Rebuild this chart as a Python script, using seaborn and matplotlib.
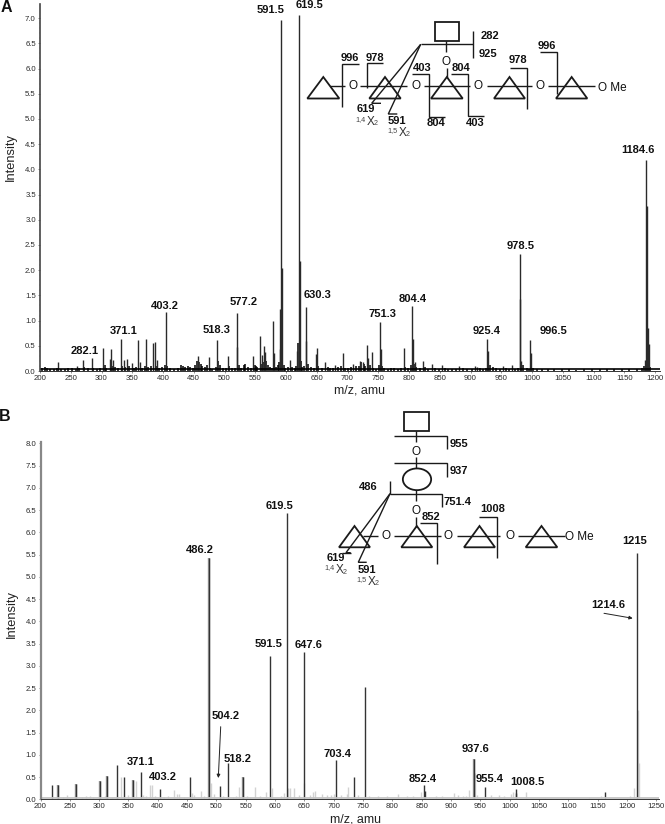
import numpy as np
import pandas as pd
import matplotlib
matplotlib.use('Agg')
import matplotlib.pyplot as plt
from matplotlib.patches import Ellipse, Polygon, Rectangle
import seaborn as sns

sns.set_theme(style='ticks')
plt.rcParams['font.family'] = ['Liberation Sans', 'DejaVu Sans']

# panel A, tall peaks
a_mz = [230, 260, 270, 284, 303, 313, 315, 319, 331, 336, 342, 350, 359, 363, 373, 384, 387, 391,
        405, 457, 474, 488, 506, 520, 521, 547, 557, 561, 564, 565, 579, 580, 590, 591, 592, 594,
        606, 618, 621, 622, 632, 633, 649, 650, 664, 680, 693, 709, 720, 725, 731, 734, 739, 753,
        754, 791, 805, 806, 809, 823, 838, 853, 882, 907, 911, 927, 928, 953, 967, 980, 981, 982,
        997, 999, 1184, 1186, 1187, 1188, 1190]
a_int = [.17, .10, .22, .25, .46, .24, .44, .22, .63, .22, .24, .15, .62, .17, .64, .55, .58, .22,
         1.18, .30, .28, .62, .30, 1.16, .48, .30, .70, .32, .50, .38, 1.00, .35, .43, 1.22, 6.97, 2.04,
         .22, .40, 7.07, 2.18, 1.26, .60, .34, .45, .18, .12, .35, .14, .19, .17, .52, .25, .38, .97,
         .44, .46, 1.29, .63, .17, .19, .13, .11, .09, .09, .08, .63, .40, .10, .12, 2.32, 1.43, .20,
         .62, .35, .22, 4.19, 3.27, .86, .54]
# panel A, grass along the baseline
a_small_mz = [204, 208, 212, 216, 222, 228, 234, 240, 246, 252, 258, 264, 272, 278, 286, 292, 298, 305, 308,
              317, 322, 327, 333, 339, 345, 353, 356, 366, 370, 376, 380, 389, 394, 399, 403, 407, 412, 418,
              424, 429, 432, 436, 440, 444, 448, 452, 455, 459, 461, 464, 468, 472, 476, 480, 486, 490, 493,
              498, 503, 508, 512, 517, 523, 527, 531, 534, 538, 543, 549, 551, 553, 559, 562, 567, 570, 574,
              577, 583, 587, 589, 593, 596, 599, 603, 610, 614, 616, 620, 624, 626, 629, 635, 640, 645, 652,
              658, 668, 672, 676, 684, 689, 696, 700, 705, 714, 718, 722, 727, 729, 737, 742, 747, 751, 756,
              760, 765, 770, 776, 782, 787, 794, 798, 803, 808, 812, 817, 826, 831, 842, 848, 858, 864, 870,
              876, 888, 895, 902, 915, 920, 925, 931, 936, 942, 948, 958, 963, 972, 977, 985, 991, 995, 1002,
              1008, 1016, 1026, 1036, 1048, 1060, 1072, 1085, 1098, 1110, 1122, 1134, 1146, 1158, 1170, 1178, 1182, 1192]
a_small_int = [.06, .08, .06, .04, .03, .05, .03, .04, .05, .06, .04, .05, .08, .05, .06, .04, .05, .12, .06,
               .10, .07, .05, .09, .08, .10, .06, .07, .05, .09, .07, .10, .09, .06, .07, .12, .09, .05, .04,
               .05, .11, .09, .07, .10, .07, .06, .12, .20, .17, .14, .10, .07, .12, .05, .04, .08, .19, .12,
               .06, .05, .10, .06, .05, .12, .06, .12, .14, .08, .05, .12, .10, .08, .14, .17, .20, .12, .08,
               .06, .08, .12, .18, .35, .12, .05, .07, .08, .06, .10, .55, .20, .08, .10, .13, .07, .06, .10,
               .05, .08, .06, .05, .07, .09, .06, .05, .07, .10, .09, .17, .14, .10, .11, .05, .04, .12, .09,
               .05, .04, .05, .05, .04, .05, .08, .06, .12, .14, .08, .05, .07, .04, .06, .04, .05, .03, .04,
               .03, .05, .03, .04, .05, .04, .05, .12, .07, .05, .04, .05, .03, .04, .06, .12, .05, .04, .06,
               .04, .03, .03, .03, .03, .03, .02, .03, .03, .04, .03, .03, .04, .03, .03, .05, .10, .07]
a_label_text = ['282.1', '371.1', '403.2', '518.3', '577.2', '591.5', '619.5', '630.3', '751.3', '804.4',
                '925.4', '978.5', '996.5', '1184.6']
# panel B, black sticks
b_mz = [220, 229, 261, 302, 314, 330, 342, 358, 371.5, 404, 455, 488, 505.5, 519, 546, 592, 621, 649,
        704, 735, 753, 853, 855, 939, 957, 1010, 1011, 1162, 1217]
b_int = [.32, .32, .35, .41, .53, .77, .49, .43, .62, .23, .50, 5.42, .30, .81, .50, 3.22, 6.44, 3.30,
         .88, .49, 2.53, .32, .19, .90, .27, .23, .15, .16, 5.53]
# panel B, the sticks that look wider and greyer
b_wide_mz = [229, 261, 302, 314, 358, 488, 546, 939]
b_wide_int = [.32, .35, .41, .53, .43, 5.42, .50, .90]
# panel B, pale peaks behind them
b_pale_mz = [238, 245, 258, 270, 278, 285, 290, 310, 322, 337, 350, 363, 375, 380, 387, 390, 396, 410, 418, 427,
             432, 436, 445, 458, 462, 473, 478, 490, 496, 512, 528, 533, 538, 552, 558, 565, 575, 585, 595,
             610, 615, 622, 626, 633, 640, 650, 660, 665, 668, 680, 688, 695, 700, 712, 722, 725, 742, 760,
             775, 790, 810, 825, 835, 848, 862, 875, 885, 905, 912, 920, 925, 930, 941, 945, 968, 982, 990,
             1003, 1006, 1028, 1060, 1100, 1135, 1155, 1205, 1212, 1219, 1221]
b_pale_int = [.06, .10, .08, .05, .08, .08, .06, .08, .06, .49, .10, .41, .10, .08, .32, .32, .08, .06, .08, .22,
              .12, .13, .06, .14, .10, .19, .08, .36, .12, .08, .05, .07, .28, .08, .06, .28, .07, .16, .25,
              .08, .14, .25, .26, .25, .10, .36, .09, .17, .18, .12, .10, .10, .12, .10, .13, .28, .10, .08,
              .08, .08, .12, .07, .08, .16, .06, .07, .07, .14, .10, .08, .08, .20, .60, .10, .10, .09, .07,
              .13, .16, .16, .03, .03, .05, .08, .08, .25, 2.0, .81]
b_label_text = ['371.1', '403.2', '486.2', '504.2', '518.2', '591.5', '619.5', '647.6', '703.4', '852.4',
                '937.6', '955.4', '1008.5', '1214.6', '1215']

W, H = 665, 824


def stems(ax, mz, inten, color, lw):
    # one row pair per peak, seaborn keeps them apart through units
    df = pd.DataFrame({'mz': np.repeat(mz, 2),
                       'inten': np.column_stack([np.zeros(len(inten)), inten]).ravel(),
                       'peak': np.repeat(np.arange(len(mz)), 2)})
    sns.lineplot(data=df, x='mz', y='inten', units='peak', estimator=None, color=color,
                 linewidth=lw, legend=False, ax=ax, solid_capstyle='butt')


def panel(left, right, top, bottom, xlim, ylim, xticks, yticks):
    ax = fig.add_axes([left / W, 1 - bottom / H, (right - left) / W, (bottom - top) / H])
    ax.set_xlim(*xlim)
    ax.set_ylim(*ylim)
    ax.set_xticks(xticks)
    ax.set_yticks(yticks)
    ax.set_xticks(np.arange(xticks[0], xticks[-1] + 1, 10), minor=True)
    ax.set_yticks(np.arange(0, yticks[-1] + .01, .1), minor=True)
    ax.set_yticklabels(['%.1f' % t for t in yticks])
    ax.tick_params(axis='both', which='major', labelsize=5.6, length=1.5, width=.5, color='#666666',
                   labelcolor='#2a2a2a', pad=1.5)
    ax.tick_params(axis='both', which='minor', length=.8, width=.3, color='#999999')
    for s in ['top', 'right']:
        ax.spines[s].set_visible(False)
    ax.spines['bottom'].set_linewidth(.7)
    ax.spines['bottom'].set_color('#333333')
    ax.patch.set_alpha(0)
    return ax


fig = plt.figure(figsize=(W / 100, H / 100), dpi=100)

# panel A
ax_a = panel(40, 660, 4, 371, (200, 1208), (0, 7.28), list(range(200, 1201, 50)), list(np.arange(0, 7.01, .5)))
ax_a.spines['left'].set_linewidth(1.2)
ax_a.spines['left'].set_color('#444444')
stems(ax_a, a_small_mz, a_small_int, 'black', 1.1)
stems(ax_a, a_mz, a_int, '#2a2a2a', 1.0)
ax_a.axhline(.03, color='black', lw=1.2)
ax_a.set_xlabel('m/z, amu', fontsize=9, labelpad=2, color='#222222', x=.515)
ax_a.set_ylabel('')

# panel B
ax_b = panel(40.5, 659, 442, 799.3, (200, 1254.5), (0, 8.03), list(range(200, 1251, 50)), list(np.arange(0, 8.01, .5)))
ax_b.spines['left'].set_linewidth(1.6)
ax_b.spines['left'].set_color('#888888')
stems(ax_b, b_pale_mz, b_pale_int, '#d2d2d2', 1.0)
stems(ax_b, b_wide_mz, b_wide_int, '#999999', 1.7)
stems(ax_b, b_mz, b_int, '#333333', 1.0)
ax_b.axhline(.025, color='#c4c4c4', lw=1.3)
ax_b.set_xlabel('m/z, amu', fontsize=9, labelpad=2, color='#222222', x=.51)
ax_b.set_ylabel('')

# overlay in picture pixels for the annotation layer
ov = fig.add_axes([0, 0, 1, 1])
ov.set_xlim(0, W)
ov.set_ylim(H, 0)
ov.axis('off')
ov.patch.set_alpha(0)


def lab(x, y, s, size=8, weight='bold', **kw):
    ov.text(x, y, s, fontsize=size, fontweight=weight, ha='center', va='center', color='#111111', **kw)


def path(*pts, lw=1.0):
    xs, ys = zip(*pts)
    ov.plot(xs, ys, color='#1a1a1a', lw=lw, solid_capstyle='butt', solid_joinstyle='miter')


def tri(x0, x1, apex_y, base_y):
    ov.add_patch(Polygon([(x0, base_y), (x1, base_y), ((x0 + x1) / 2, apex_y)], closed=True, fill=False,
                         ec='#1a1a1a', lw=1.3))


def oxy(x, y):
    lab(x, y, 'O', size=8.5, weight='normal')


def cross_ring(x, y, pos):
    # small 1,4 then X then subscript 2
    ov.text(x, y - 2, pos, fontsize=5.2, ha='right', va='center', color='#444444')
    ov.text(x + 1, y, 'X', fontsize=8.5, ha='left', va='center', color='#333333')
    ov.text(x + 8, y + 2, '2', fontsize=5.2, ha='left', va='center', color='#444444')


lab(6, 7, 'A', size=11.5)
lab(5, 416, 'B', size=11.5)
ov.text(11, 157, 'Intensity', rotation=90, fontsize=9.3, ha='center', va='center', color='#222222')
ov.text(12, 614, 'Intensity', rotation=90, fontsize=9.3, ha='center', va='center', color='#222222')

# peak labels, panel A
a_label_xy = [(85, 351), (124, 331), (165, 306), (217, 330), (244, 302), (271, 10), (309, 5), (317, 295),
              (382, 314), (413, 299), (487, 331), (521, 246), (553, 331), (638, 150)]
for (x, y), s in zip(a_label_xy, a_label_text):
    lab(x, y, s)

# peak labels, panel B
b_label_xy = [(141, 762), (163, 777), (200, 550), (226, 716), (238, 759), (269, 644), (280, 506), (309, 645),
              (337, 754), (423, 779), (476, 749), (490, 779), (527, 782), (608, 605), (635, 541)]
for (x, y), s in zip(b_label_xy, b_label_text):
    lab(x, y, s)

# glycan A
ov.add_patch(Rectangle((434.7, 21.7), 24.6, 19, fill=False, ec='#1a1a1a', lw=1.3))
path((446, 40.7), (446, 52))
path((420.7, 44.3), (473.3, 44.3))
path((473.3, 31), (473.3, 58.3))
lab(490, 36, '282')
lab(488, 53.5, '925')
oxy(446, 62)
path((446.5, 68), (446.5, 78))
for x0, x1 in [(307.3, 339.3), (369.3, 400.7), (431, 462.7), (494, 525), (556, 587.3)]:
    tri(x0, x1, 77, 98.5)
for x0, x1 in [(330, 345), (360, 407), (424, 470), (487, 532), (548, 595)]:
    path((x0, 86.3), (x1, 86.3))
for x in [353.3, 415.7, 478.3, 540]:
    oxy(x, 86.3)
ov.text(598, 87.5, 'O Me', fontsize=8.5, ha='left', va='center', color='#111111')
path((342, 107), (342, 64.3), (359, 64.3))
path((366.7, 88), (366.7, 63.3), (383.3, 63.3))
path((411.7, 73.7), (428.7, 73.7), (428.7, 116.7), (445, 116.7))
path((450.7, 73.7), (467.7, 73.7), (467.7, 115.7), (484, 115.7))
path((510, 67.7), (526.7, 67.7), (526.7, 109.3))
path((540, 51.7), (557.3, 51.7), (557.3, 94.3))
path((420.7, 44.3), (371.7, 103.3), (381, 103.3))
path((420.7, 44.3), (388.3, 114), (397.3, 114))
lab(349.5, 57.5, '996')
lab(375, 57.5, '978')
lab(422.5, 68, '403')
lab(461.5, 67.5, '804')
lab(436, 123, '804')
lab(475.5, 122.5, '403')
lab(517.5, 59.5, '978')
lab(547, 45.5, '996')
lab(366, 108.7, '619')
lab(396.7, 121, '591')
cross_ring(366, 121.5, '1,4')
cross_ring(398, 132.5, '1,5')

# glycan B
ov.add_patch(Rectangle((404.3, 411.7), 24.7, 19, fill=False, ec='#1a1a1a', lw=1.3))
path((416, 430.7), (416, 442))
path((394, 435.7), (447, 435.7), (447, 449.3))
oxy(416, 452)
path((416, 457.3), (416, 468.3))
path((394, 463.3), (447, 463.3), (447, 477.3))
ov.add_patch(Ellipse((417, 479.3), 28.3, 21.7, fill=False, ec='#1a1a1a', lw=1.3))
path((416, 490), (416, 500.7))
path((390, 493.7), (442.3, 493.7), (442.3, 507.3))
path((390, 480.7), (390, 493.7))
oxy(416, 511)
path((416, 516.7), (416, 526.7))
for x0, x1 in [(339, 370), (401.3, 432.3), (464, 495), (525.7, 557.3)]:
    tri(x0, x1, 526, 547.3)
for x0, x1 in [(363, 378), (394, 441), (457, 500), (518, 565)]:
    path((x0, 536), (x1, 536))
for x in [385.7, 448.3, 510]:
    oxy(x, 536)
ov.text(565, 537, 'O Me', fontsize=8.5, ha='left', va='center', color='#111111')
path((420, 522.7), (437.3, 522.7), (437.3, 564.3))
path((479.3, 516.7), (496.7, 516.7), (496.7, 558.3))
path((390, 493.7), (346, 552.7), (350.7, 552.7))
path((341.7, 552.7), (350.7, 552.7))
path((390, 493.7), (358.3, 562.3), (366.7, 562.3))
lab(458.7, 444, '955')
lab(459.3, 470.7, '937')
lab(368, 487.3, '486')
lab(458, 501.7, '751.4')
lab(431.3, 516.7, '852')
lab(492.3, 509.3, '1008')
lab(335.7, 557.7, '619')
lab(366.7, 570, '591')
cross_ring(335, 570, '1,4')
cross_ring(367, 581.7, '1,5')

# arrows in panel B
ov.annotate('', xy=(218.3, 778), xytext=(220.7, 726.7),
            arrowprops=dict(arrowstyle='-|>', lw=.7, color='#222222', mutation_scale=5, shrinkA=0, shrinkB=0))
ov.annotate('', xy=(632.7, 618.3), xytext=(604, 613.3),
            arrowprops=dict(arrowstyle='-|>', lw=.7, color='#222222', mutation_scale=5, shrinkA=0, shrinkB=0))

fig.savefig('out.png', dpi=100, facecolor='white')
